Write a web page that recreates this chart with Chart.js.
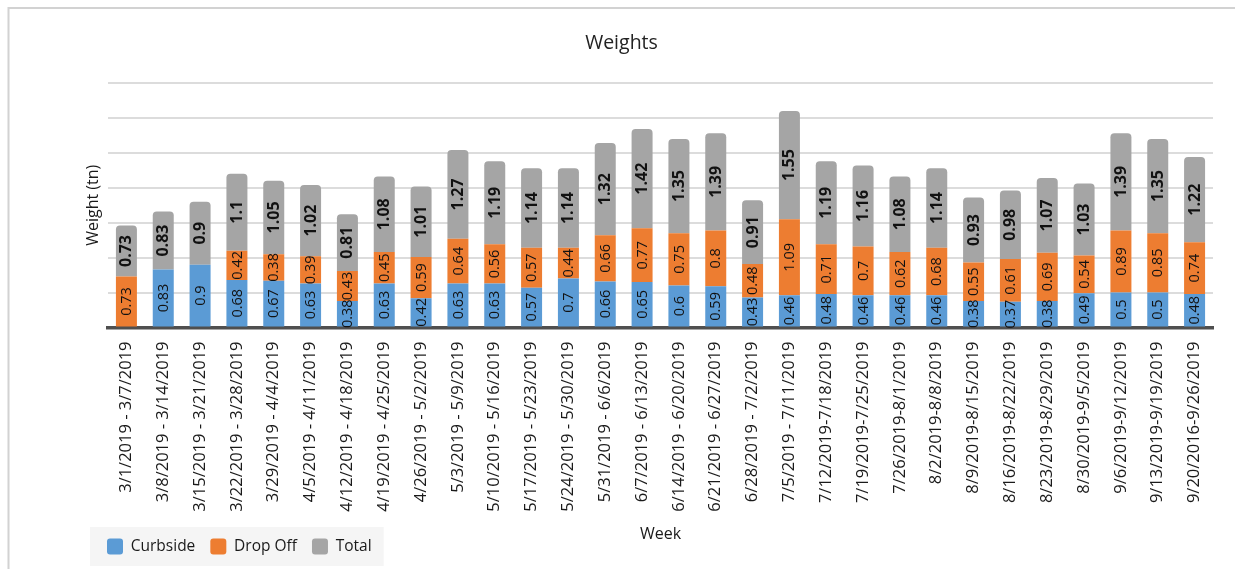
<!DOCTYPE html>
<html>
<head>
<meta charset="utf-8">
<script src="https://cdn.jsdelivr.net/npm/chart.js@4/dist/chart.umd.min.js"></script>
<style>
  html, body { margin: 0; padding: 0; background: #fff; }
  canvas { display: block; }
</style>
</head>
<body>
<canvas id="chart" width="1235" height="569"></canvas>
<script>
// Weekly collected weight, in tons
const weeks = [
  '3/1/2019 - 3/7/2019', '3/8/2019 - 3/14/2019', '3/15/2019 - 3/21/2019',
  '3/22/2019 - 3/28/2019', '3/29/2019 - 4/4/2019', '4/5/2019 - 4/11/2019',
  '4/12/2019 - 4/18/2019', '4/19/2019 - 4/25/2019', '4/26/2019 - 5/2/2019',
  '5/3/2019 - 5/9/2019', '5/10/2019 - 5/16/2019', '5/17/2019 - 5/23/2019',
  '5/24/2019 - 5/30/2019', '5/31/2019 - 6/6/2019', '6/7/2019 - 6/13/2019',
  '6/14/2019 - 6/20/2019', '6/21/2019 - 6/27/2019', '6/28/2019 - 7/2/2019',
  '7/5/2019 - 7/11/2019', '7/12/2019-7/18/2019', '7/19/2019-7/25/2019',
  '7/26/2019-8/1/2019', '8/2/2019-8/8/2019', '8/9/2019-8/15/2019',
  '8/16/2019-8/22/2019', '8/23/2019-8/29/2019', '8/30/2019-9/5/2019',
  '9/6/2019-9/12/2019', '9/13/2019-9/19/2019', '9/20/2016-9/26/2019'
];

const curbside = [
  null, 0.83, 0.9, 0.68, 0.67, 0.63, 0.38, 0.63, 0.42, 0.63,
  0.63, 0.57, 0.7, 0.66, 0.65, 0.6, 0.59, 0.43, 0.46, 0.48,
  0.46, 0.46, 0.46, 0.38, 0.37, 0.38, 0.49, 0.5, 0.5, 0.48
];

const dropOff = [
  0.73, null, null, 0.42, 0.38, 0.39, 0.43, 0.45, 0.59, 0.64,
  0.56, 0.57, 0.44, 0.66, 0.77, 0.75, 0.8, 0.48, 1.09, 0.71,
  0.7, 0.62, 0.68, 0.55, 0.61, 0.69, 0.54, 0.89, 0.85, 0.74
];

const total = [
  0.73, 0.83, 0.9, 1.1, 1.05, 1.02, 0.81, 1.08, 1.01, 1.27,
  1.19, 1.14, 1.14, 1.32, 1.42, 1.35, 1.39, 0.91, 1.55, 1.19,
  1.16, 1.08, 1.14, 0.93, 0.98, 1.07, 1.03, 1.39, 1.35, 1.22
];

const yMax = 3.5;
const yStep = 0.5;

const FONT = "'Open Sans', 'DejaVu Sans', sans-serif";

// Thin frame around the whole chart object
const framePlugin = {
  id: 'frame',
  beforeDraw(chart) {
    const ctx = chart.ctx;
    ctx.save();
    ctx.strokeStyle = '#d2d2d2';
    ctx.lineWidth = 2;
    ctx.strokeRect(8.5, 8, chart.width + 20, chart.height + 20);
    ctx.restore();
  }
};

// Light panel behind the legend entries
const legendPanelPlugin = {
  id: 'legendPanel',
  beforeDraw(chart) {
    const lg = chart.legend;
    if (!lg || !lg.legendHitBoxes || !lg.legendHitBoxes.length) return;
    const hb = lg.legendHitBoxes;
    const first = hb[0], last = hb[hb.length - 1];
    const cy = first.top + first.height / 2;
    const x0 = first.left - 17;
    const x1 = last.left + last.width + 12;
    const ctx = chart.ctx;
    ctx.save();
    ctx.fillStyle = '#f5f5f5';
    ctx.fillRect(x0, cy - 19.5, x1 - x0, 39);
    ctx.restore();
  }
};

// Chart heading, centred on the framed chart object
const headingPlugin = {
  id: 'heading',
  afterDraw(chart) {
    const ctx = chart.ctx;
    ctx.save();
    ctx.font = "19.5px " + FONT;
    ctx.fillStyle = '#222';
    ctx.textAlign = 'center';
    ctx.textBaseline = 'middle';
    ctx.fillText('Weights', chart.width / 2 + 4, 43);
    ctx.restore();
  }
};

// Vertical value labels in the middle of each bar segment
const segmentLabelPlugin = {
  id: 'segmentLabels',
  afterDatasetsDraw(chart) {
    const ctx = chart.ctx;
    chart.data.datasets.forEach((ds, di) => {
      const meta = chart.getDatasetMeta(di);
      if (meta.hidden) return;
      meta.data.forEach((bar, i) => {
        const v = ds.data[i];
        if (v === null || v === undefined) return;
        const p = bar.getProps(['x', 'y', 'base'], true);
        const cy = (p.y + p.base) / 2;
        ctx.save();
        ctx.translate(p.x, cy);
        ctx.rotate(-Math.PI / 2);
        ctx.font = (ds.labelBold ? 'bold 16px ' : '14.5px ') + FONT;
        ctx.fillStyle = '#111';
        ctx.textAlign = 'center';
        ctx.textBaseline = 'middle';
        ctx.fillText(String(v), 0, 0.5);
        ctx.restore();
      });
    });
  }
};

new Chart(document.getElementById('chart'), {
  type: 'bar',
  data: {
    labels: weeks,
    datasets: [
      { label: 'Curbside', data: curbside, backgroundColor: '#5b9bd5', borderWidth: 0, borderRadius: 3 },
      { label: 'Drop Off', data: dropOff, backgroundColor: '#ed7d31', borderWidth: 0, borderRadius: 3 },
      { label: 'Total', data: total, backgroundColor: '#a5a5a5', borderWidth: 0, borderRadius: 4, labelBold: true }
    ]
  },
  options: {
    responsive: false,
    devicePixelRatio: 1,
    animation: false,
    layout: { padding: { left: 92, right: 22, top: 83, bottom: 4.5 } },
    datasets: {
      bar: { barPercentage: 0.57, categoryPercentage: 1.0 }
    },
    scales: {
      x: {
        stacked: true,
        z: 1,
        grid: { display: false, drawTicks: false },
        border: { display: true, color: '#4f4f4f', width: 3.5 },
        ticks: {
          autoSkip: false,
          minRotation: 90,
          maxRotation: 90,
          padding: 14,
          color: '#1a1a1a',
          font: { family: FONT, size: 16.5 }
        },
        title: {
          display: true,
          text: 'Week',
          color: '#1a1a1a',
          font: { family: FONT, size: 16 },
          padding: { top: 0, bottom: -20.1 }
        },
        afterFit(scale) { scale.height = 196; }
      },
      y: {
        stacked: true,
        min: 0,
        max: yMax,
        border: { display: false },
        grid: {
          drawTicks: false,
          lineWidth: 2,
          color: (c) => (c.tick && c.tick.value === 0 ? 'rgba(0,0,0,0)' : '#dcdcdc')
        },
        ticks: { display: false, stepSize: yStep },
        title: {
          display: true,
          text: 'Weight (tn)',
          color: '#1a1a1a',
          font: { family: FONT, size: 16 },
          padding: { top: -8.6, bottom: 0 }
        },
        afterFit(scale) { scale.width = 16; }
      }
    },
    plugins: {
      title: { display: false },
      tooltip: { enabled: false },
      legend: {
        position: 'bottom',
        align: 'start',
        labels: {
          boxWidth: 16,
          boxHeight: 16,
          useBorderRadius: true,
          borderRadius: 3,
          padding: 15,
          color: '#1a1a1a',
          font: { family: FONT, size: 15.5 }
        }
      }
    }
  },
  plugins: [framePlugin, legendPanelPlugin, segmentLabelPlugin, headingPlugin]
});
</script>
</body>
</html>
